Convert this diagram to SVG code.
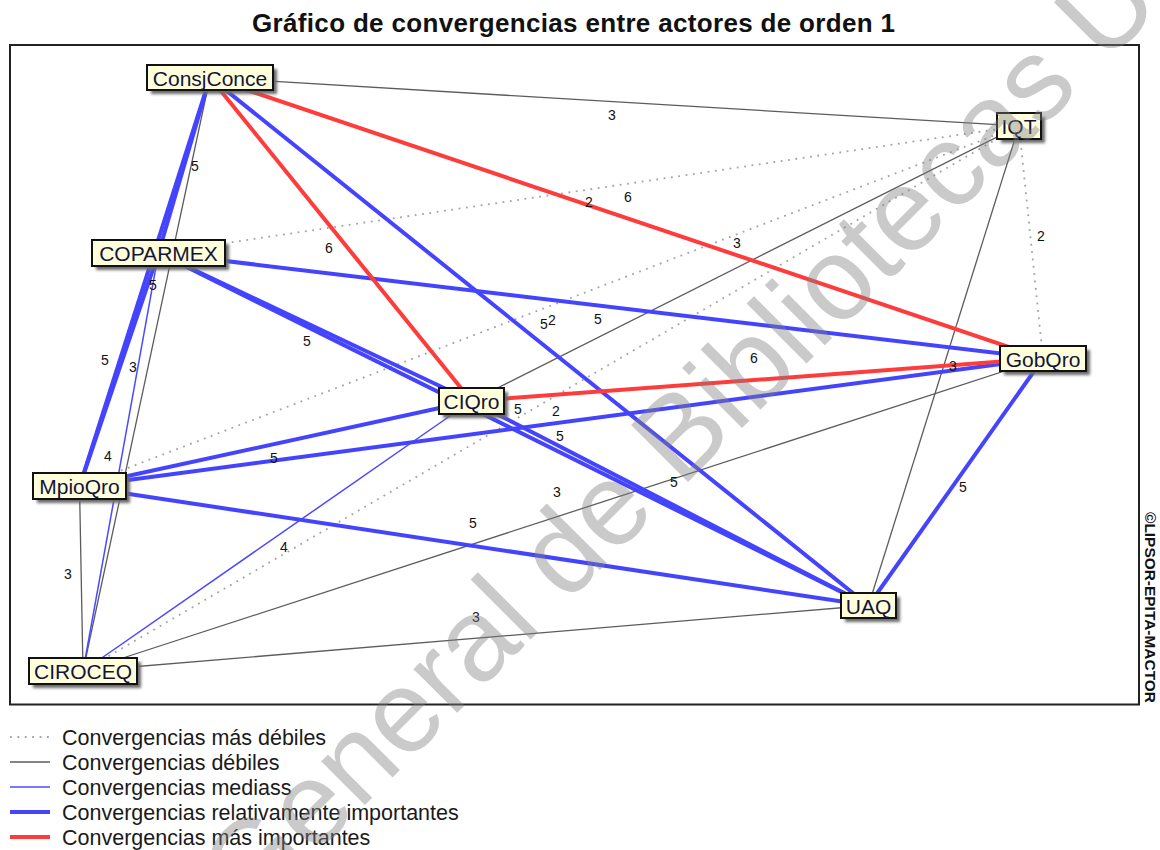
<svg xmlns="http://www.w3.org/2000/svg" width="1160" height="850" viewBox="0 0 1160 850">
  <defs>
    <filter id="shadowBlur" x="-20%" y="-40%" width="140%" height="180%">
      <feGaussianBlur stdDeviation="1.6"/>
    </filter>
    <style>
      .title { font-family: "Liberation Sans", Arial, sans-serif; font-weight: bold; font-size: 26px; fill: #111; }
      .frame { fill: none; stroke: #222; stroke-width: 2; }
      .e2 { stroke: #a3a3a3; stroke-width: 1.8; stroke-dasharray: 1.8 5.6; fill: none; }
      .e3 { stroke: #5c5c5c; stroke-width: 1.3; fill: none; }
      .e4 { stroke: #4a4aff; stroke-width: 1.5; fill: none; }
      .e5 { stroke: #4444ff; stroke-width: 4; fill: none; }
      .e6 { stroke: #ff3c3c; stroke-width: 4; fill: none; }
      .lbl { font-family: "Liberation Sans", Arial, sans-serif; font-size: 14px; fill: #111; text-anchor: middle; }
      .box { fill: #ffffdc; stroke: #111; stroke-width: 2; }
      .shadow { fill: #6a6a6a; filter: url(#shadowBlur); }
      .name { font-family: "Liberation Sans", Arial, sans-serif; font-size: 21px; fill: #14143a; text-anchor: middle; }
      .legend { font-family: "Liberation Sans", Arial, sans-serif; font-size: 21.5px; fill: #1a1a1a; }
      .credit { font-family: "Liberation Sans", Arial, sans-serif; font-weight: bold; font-size: 14px; fill: #111; }
      .wm { font-family: "Liberation Sans", Arial, sans-serif; font-size: 117px; fill: #808080; fill-opacity: 0.42; }
    </style>
  </defs>

  <rect width="1160" height="850" fill="#fff"/>

  <text class="title" x="573.5" y="32" text-anchor="middle" textLength="643" lengthAdjust="spacing">Gráfico de convergencias entre actores de orden 1</text>

  <rect class="frame" x="10" y="45" width="1129" height="659.5"/>

  <!-- connectors: centre to centre, styled by convergence strength -->
  <g id="connectors">
    <!-- weakest (2) -->
    <line class="e2" x1="158.5" y1="253" x2="1019" y2="126"/>
    <line class="e2" x1="79.5" y1="486.5" x2="1019" y2="126"/>
    <line class="e2" x1="83" y1="671" x2="1019" y2="126"/>
    <line class="e2" x1="1019" y1="126" x2="1043" y2="358.5"/>
    <!-- weak (3) -->
    <line class="e3" x1="210" y1="77.5" x2="1019" y2="126"/>
    <line class="e3" x1="210" y1="77.5" x2="83" y2="671"/>
    <line class="e3" x1="79.5" y1="486.5" x2="83" y2="671"/>
    <line class="e3" x1="83" y1="671" x2="868.5" y2="605.5"/>
    <line class="e3" x1="83" y1="671" x2="1043" y2="358.5"/>
    <line class="e3" x1="1019" y1="126" x2="868.5" y2="605.5"/>
    <line class="e3" x1="471.5" y1="401" x2="1019" y2="126"/>
    <!-- medium (4) -->
    <line class="e4" x1="158.5" y1="253" x2="83" y2="671"/>
    <line class="e4" x1="471.5" y1="401" x2="83" y2="671"/>
    <!-- relatively important (5) -->
    <line class="e5" x1="210" y1="77.5" x2="158.5" y2="253"/>
    <line class="e5" x1="210" y1="77.5" x2="79.5" y2="486.5"/>
    <line class="e5" x1="158.5" y1="253" x2="79.5" y2="486.5"/>
    <line class="e5" x1="210" y1="77.5" x2="868.5" y2="605.5"/>
    <line class="e5" x1="158.5" y1="253" x2="471.5" y2="401"/>
    <line class="e5" x1="158.5" y1="253" x2="1043" y2="358.5"/>
    <line class="e5" x1="158.5" y1="253" x2="868.5" y2="605.5"/>
    <line class="e5" x1="79.5" y1="486.5" x2="471.5" y2="401"/>
    <line class="e5" x1="79.5" y1="486.5" x2="1043" y2="358.5"/>
    <line class="e5" x1="79.5" y1="486.5" x2="868.5" y2="605.5"/>
    <line class="e5" x1="471.5" y1="401" x2="868.5" y2="605.5"/>
    <line class="e5" x1="1043" y1="358.5" x2="868.5" y2="605.5"/>
    <!-- most important (6) -->
    <line class="e6" x1="210" y1="77.5" x2="471.5" y2="401"/>
    <line class="e6" x1="210" y1="77.5" x2="1043" y2="358.5"/>
    <line class="e6" x1="471.5" y1="401" x2="1043" y2="358.5"/>
  </g>

  <!-- convergence values -->
  <g id="values">
    <text class="lbl" x="612" y="120">3</text>
    <text class="lbl" x="195" y="171">5</text>
    <text class="lbl" x="329" y="253">6</text>
    <text class="lbl" x="153" y="290">5</text>
    <text class="lbl" x="589" y="207">2</text>
    <text class="lbl" x="628" y="202">6</text>
    <text class="lbl" x="737" y="248">3</text>
    <text class="lbl" x="1041" y="241">2</text>
    <text class="lbl" x="105" y="365">5</text>
    <text class="lbl" x="133" y="372">3</text>
    <text class="lbl" x="307" y="346">5</text>
    <text class="lbl" x="108" y="461">4</text>
    <text class="lbl" x="274" y="463">5</text>
    <text class="lbl" x="284" y="552">4</text>
    <text class="lbl" x="544" y="329">5</text>
    <text class="lbl" x="552" y="325">2</text>
    <text class="lbl" x="598" y="324">5</text>
    <text class="lbl" x="754" y="363">6</text>
    <text class="lbl" x="518" y="414">5</text>
    <text class="lbl" x="556" y="416">2</text>
    <text class="lbl" x="560" y="441">5</text>
    <text class="lbl" x="557" y="497">3</text>
    <text class="lbl" x="674" y="487">5</text>
    <text class="lbl" x="473" y="528">5</text>
    <text class="lbl" x="953" y="371">3</text>
    <text class="lbl" x="963" y="492">5</text>
    <text class="lbl" x="68" y="579">3</text>
    <text class="lbl" x="476" y="622">3</text>
  </g>

  <!-- actors -->
  <g id="ConsjConce">
    <rect class="shadow" x="151" y="69" width="126" height="25"/>
    <rect class="box" x="147" y="65" width="126" height="25"/>
    <text class="name" x="210" y="85.5">ConsjConce</text>
  </g>
  <g id="COPARMEX">
    <rect class="shadow" x="96" y="244" width="133" height="26"/>
    <rect class="box" x="92" y="240" width="133" height="26"/>
    <text class="name" x="158.5" y="261">COPARMEX</text>
  </g>
  <g id="MpioQro">
    <rect class="shadow" x="37" y="477" width="93" height="26"/>
    <rect class="box" x="33" y="473" width="93" height="26"/>
    <text class="name" x="79.5" y="494">MpioQro</text>
  </g>
  <g id="CIQro">
    <rect class="shadow" x="443" y="392" width="65" height="26"/>
    <rect class="box" x="439" y="388" width="65" height="26"/>
    <text class="name" x="471.5" y="409">CIQro</text>
  </g>
  <g id="CIROCEQ">
    <rect class="shadow" x="33" y="662" width="108" height="26"/>
    <rect class="box" x="29" y="658" width="108" height="26"/>
    <text class="name" x="83" y="679">CIROCEQ</text>
  </g>
  <g id="IQT">
    <rect class="shadow" x="1001" y="117" width="44" height="26"/>
    <rect class="box" x="997" y="113" width="44" height="26"/>
    <text class="name" x="1019" y="134">IQT</text>
  </g>
  <g id="GobQro">
    <rect class="shadow" x="1004" y="350" width="86" height="25"/>
    <rect class="box" x="1000" y="346" width="86" height="25"/>
    <text class="name" x="1043" y="366.5">GobQro</text>
  </g>
  <g id="UAQ">
    <rect class="shadow" x="845" y="597" width="55" height="25"/>
    <rect class="box" x="841" y="593" width="55" height="25"/>
    <text class="name" x="868.5" y="613.5">UAQ</text>
  </g>

  <text class="credit" transform="translate(1145,512) rotate(90)" textLength="191" lengthAdjust="spacingAndGlyphs">©LIPSOR-EPITA-MACTOR</text>

  <!-- legend -->
  <g id="legend">
    <line class="e2" x1="10" y1="737" x2="50" y2="737" stroke="#c8c8c8"/>
    <line class="e3" x1="10" y1="762" x2="50" y2="762" stroke-width="1.6"/>
    <line class="e4" x1="10" y1="787" x2="50" y2="787"/>
    <line class="e5" x1="10" y1="812" x2="50" y2="812"/>
    <line class="e6" x1="10" y1="837" x2="50" y2="837"/>
    <text class="legend" x="62" y="745">Convergencias más débiles</text>
    <text class="legend" x="62" y="770">Convergencias débiles</text>
    <text class="legend" x="62" y="795">Convergencias mediass</text>
    <text class="legend" x="62" y="820">Convergencias relativamente importantes</text>
    <text class="legend" x="62" y="845">Convergencias más importantes</text>
  </g>

  <!-- library watermark -->
  <text class="wm" transform="translate(249,921) rotate(-45)">General de Bibliotecas UAQ</text>
</svg>
